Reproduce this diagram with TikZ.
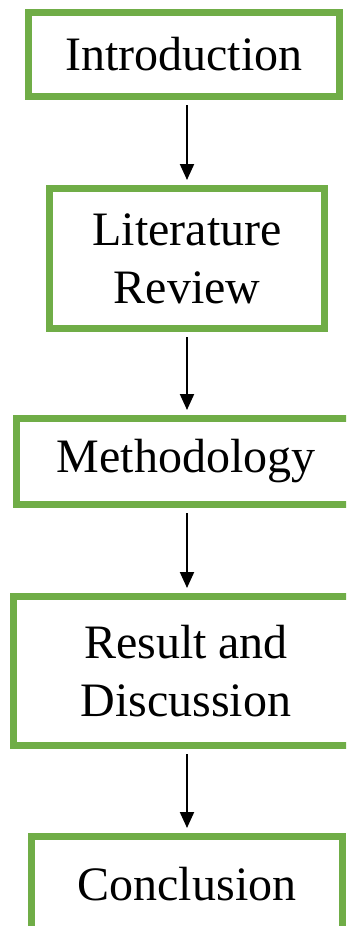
\documentclass[tikz,border=0pt]{standalone}
\usepackage{fontspec}
\setmainfont{Liberation Serif}
\usetikzlibrary{arrows.meta}
\definecolor{boxgreen}{RGB}{112,173,71}

\begin{document}
\begin{tikzpicture}[x=1pt,y=-1pt,
    stage/.style={draw=boxgreen,line width=7pt,inner sep=0pt,align=center,font=\fontsize{48}{58}\selectfont},
    arr/.style={-{Triangle[length=16pt,width=14pt]},line width=2pt,shorten <=5pt,shorten >=5pt}]
  \path[use as bounding box,clip] (0,0) rectangle (346,926);
  \node[stage,minimum width=311pt,minimum height=84pt] (intro) at (184,54.5) {Introduction};
  \node[stage,minimum width=275pt,minimum height=140pt] (lit) at (187,258.5) {Literature\\Review};
  % right side of these two runs off the page
  \node[stage,minimum width=358pt,minimum height=86pt] (meth) at (195.5,461.5) {\hspace*{-19pt}Methodology};
  \node[stage,minimum width=358pt,minimum height=149pt] (res) at (192.5,671) {\hspace*{-13pt}Result and\\\hspace*{-13pt}Discussion};
  \node[stage,minimum width=311pt,minimum height=100pt] (conc) at (187,886.5) {\raisebox{6pt}{Conclusion}};
  \draw[arr] (lit.north |- intro.south) -- (lit.north);
  \draw[arr] (lit.south) -- (lit.south |- meth.north);
  \draw[arr] (lit.south |- meth.south) -- (lit.south |- res.north);
  \draw[arr] (lit.south |- res.south) -- (conc.north);
\end{tikzpicture}
\end{document}
